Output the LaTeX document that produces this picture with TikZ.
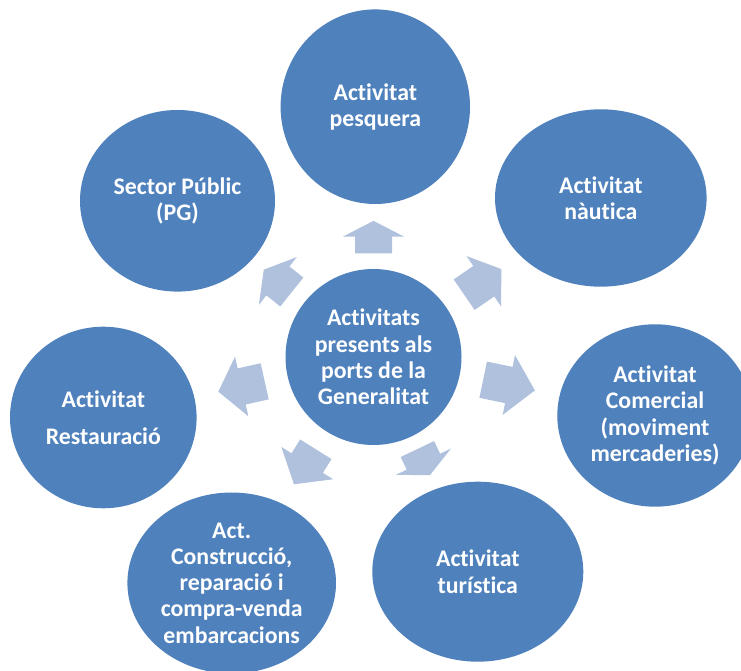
\documentclass[tikz,border=0pt]{standalone}
\usepackage{fontspec}
\setmainfont{Carlito}[Ligatures={NoCommon,NoRequired,NoContextual}]
\usetikzlibrary{shapes.geometric,calc}
\definecolor{circfill}{HTML}{4F81BD}
\definecolor{arrfill}{HTML}{B0C1DE}
\tikzset{
  bubble/.style={ellipse, fill=circfill, inner sep=0pt, text=white, align=center,
    font=\bfseries\fontsize{23.8}{26.2}\selectfont},
  arrowshape/.style={fill=arrfill}
}
\newcommand\radarrow[4]{%
  \begin{scope}[shift={(c.center)},rotate=#1]
    \fill[arrowshape] (#2,-18.5) -- ++(#3,0) -- ++(0,-12) -- ++(#4,30.5)
      -- ++(-#4,30.5) -- ++(0,-12) -- ++(-#3,0) -- cycle;
  \end{scope}}
\begin{document}
\begin{tikzpicture}[x=1pt,y=1pt]
\useasboundingbox (0,0) rectangle (741,671);
\clip (0,0) rectangle (741,671);
\fill[white] (0,0) rectangle (741,671);
\node[bubble, minimum width=176pt, minimum height=176pt] (c) at (373.5,314)
  {Activitats\\presents als\\ports de la\\Generalitat};
\node[bubble, minimum width=189.4pt, minimum height=194.6pt] (pesq) at (375.3,564.3)
  {Activitat\\pesquera};
\node[bubble, minimum width=195pt, minimum height=181.6pt] (sector) at (177.5,470.2)
  {Sector Públic\\(PG)};
\node[bubble, minimum width=211.6pt, minimum height=177.4pt] (nautica) at (600.8,473)
  {Activitat\\nàutica};
\node[bubble, minimum width=195.4pt, minimum height=182.4pt] (comercial) at (655,255.5)
  {Activitat\\Comercial\\(moviment\\mercaderies)};
\node[bubble, minimum width=186.6pt, minimum height=181.6pt] (restauracio) at (103.3,253.5)
  {Activitat\\[10.5pt]Restauració};
\node[bubble, minimum width=208.6pt, minimum height=181pt] (construccio) at (231.7,88)
  {Act.\\Construcció,\\reparació i\\compra-venda\\embarcacions};
\node[bubble, minimum width=211pt, minimum height=180pt] (turistica) at (477.8,99.3)
  {Activitat\\turística};
\radarrow{90}{103.7}{16.7}{15.7}
\radarrow{34.5}{110}{23.8}{21.4}
\radarrow{-11.7}{112}{26.2}{26.6}
\radarrow{-64.5}{102}{14}{15}
\radarrow{-122}{108.8}{16.3}{25}
\radarrow{192.6}{111.5}{23.6}{23.9}
\radarrow{141.5}{104.4}{17.8}{18}
\end{tikzpicture}
\end{document}
